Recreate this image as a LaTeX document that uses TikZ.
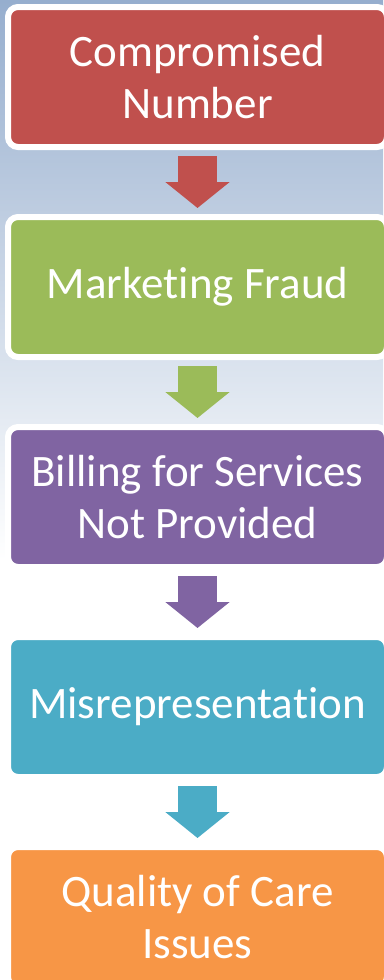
\documentclass[tikz,border=0pt]{standalone}
\usepackage{fontspec}
\setmainfont{Carlito}[Ligatures=NoCommon]
\usepackage{tikz}
\usetikzlibrary{positioning}
\usetikzlibrary{arrows.meta}
\usepackage{xcolor}
\definecolor{ColRed}{RGB}{192,80,77}
\definecolor{ColGreen}{RGB}{155,187,89}
\definecolor{ColPurple}{RGB}{128,100,162}
\definecolor{ColTeal}{RGB}{75,172,198}
\definecolor{ColOrange}{RGB}{247,150,70}
\definecolor{ColSky}{RGB}{150,174,206}
\tikzstyle{StepBox}=[rectangle,draw=white,line width=6pt,rounded corners=10pt,
minimum width=379pt,minimum height=140pt,outer sep=0pt,align=center,
text=white,font=\fontsize{45}{52}\selectfont]
\tikzstyle{StepArrow}=[line width=39pt,shorten <=9pt,shorten >=9pt,
-{Triangle[length=26pt,width=63pt]}]

\begin{document}
\begin{tikzpicture}[x=1pt,y=-1pt,node distance=70pt]
        \useasboundingbox (0,0) rectangle (383,980);
        \fill[top color=ColSky,bottom color=white] (0,0) rectangle (383,560);
        \fill[white] (0,560) rectangle (383,980);
        \node[StepBox,fill=ColRed](comp)at(197.5,77){Compromised\\Number};
        \node[StepBox,fill=ColGreen,below=of comp](mark){Marketing Fraud};
        \node[StepBox,fill=ColPurple,below=of mark](bill){Billing for Services\\Not Provided};
        \node[StepBox,fill=ColTeal,below=of bill](misr){Misrepresentation};
        \node[StepBox,fill=ColOrange,below=of misr](qual){Quality of Care\\Issues};
        \draw[StepArrow,ColRed](comp)--(mark);
        \draw[StepArrow,ColGreen](mark)--(bill);
        \draw[StepArrow,ColPurple](bill)--(misr);
        \draw[StepArrow,ColTeal](misr)--(qual);
    \end{tikzpicture}
\end{document}
